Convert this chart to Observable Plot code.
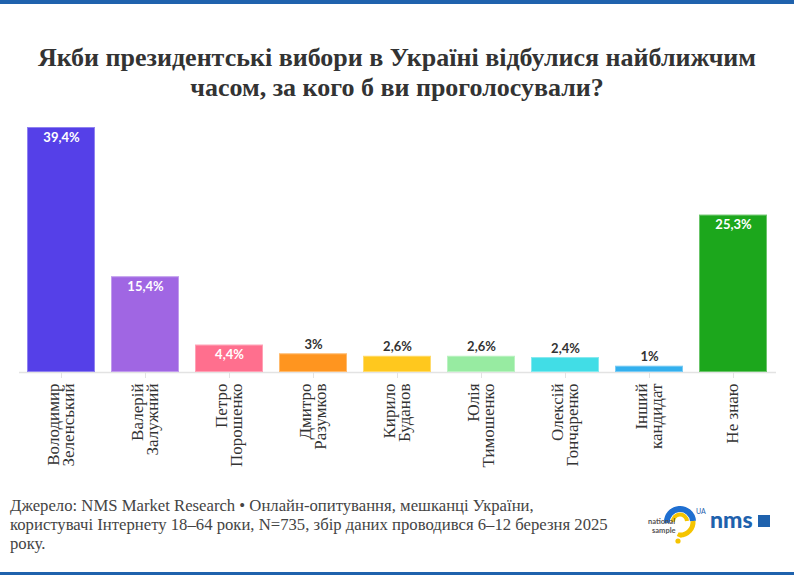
<!DOCTYPE html>
<html>
<head>
<meta charset="utf-8">
<script src="https://cdn.jsdelivr.net/npm/d3@7"></script>
<script src="https://cdn.jsdelivr.net/npm/@observablehq/plot@0.6"></script>
<style>
  html, body { margin: 0; padding: 0; background: #fff; }
  body { width: 794px; height: 575px; position: relative; overflow: hidden; }
  #topbar { position: absolute; left: 0; top: 0; width: 794px; height: 4px; background: #1f62ad; }
  #bottombar { position: absolute; left: 0; top: 572px; width: 794px; height: 3px; background: #1f62ad; }
  #title { position: absolute; left: 0; top: 43px; width: 794px; text-align: center;
    font-family: "Liberation Serif", serif; font-weight: 700; font-size: 26px; line-height: 30px; color: #333; }
  #chart { position: absolute; left: 0; top: 110px; width: 794px; height: 362px; }
  #source { position: absolute; left: 10px; top: 496px; font-family: "Liberation Serif", serif;
    font-size: 16.7px; line-height: 19px; color: #444; }
  #logos { position: absolute; left: 640px; top: 500px; }
</style>
</head>
<body>
<div id="topbar"></div>
<div id="title">Якби президентські вибори в Україні відбулися найближчим<br>часом, за кого б ви проголосували?</div>
<div id="chart"></div>
<div id="source">Джерело: NMS Market Research • Онлайн-опитування, мешканці України,<br>користувачі Інтернету 18–64 роки, N=735, збір даних проводився 6–12 березня 2025<br>року.</div>
<div id="logos">
  <svg width="150" height="50" viewBox="0 0 150 50">
    <path d="M27 23 A13 13 0 0 1 53 21" fill="none" stroke="#1f6fd1" stroke-width="6"/>
    <path d="M53 21 A13 13 0 0 1 40 35 L39 37" fill="none" stroke="#f5c400" stroke-width="5"/>
    <path d="M33 22 A7 7 0 0 1 47 21" fill="none" stroke="#f5c400" stroke-width="4"/>
    <circle cx="38" cy="41" r="2.6" fill="#f5c400"/>
    <text x="8" y="24" font-family="Lato, sans-serif" font-size="7.5" font-weight="700" fill="#555">national</text>
    <text x="12" y="33" font-family="Lato, sans-serif" font-size="7.5" font-weight="700" fill="#555">sample</text>
    <text x="56" y="14" font-family="Lato, sans-serif" font-size="7" fill="#1f62ad">UA</text>
    <text x="70" y="28" font-family="Lato, sans-serif" font-size="23" font-weight="900" fill="#1f62ad">nms</text>
    <rect x="118" y="15" width="12" height="12" fill="#1f62ad"/>
  </svg>
</div>
<div id="bottombar"></div>
<script>
const names = ["Володимир\nЗеленський", "Валерій\nЗалужний", "Петро\nПорошенко", "Дмитро\nРазумков",
  "Кирило\nБуданов", "Юлія\nТимошенко", "Олексій\nГончаренко", "Інший\nкандидат", "Не знаю"];
const values = [39.4, 15.4, 4.4, 3, 2.6, 2.6, 2.4, 1, 25.3];
const colors = ["#5540e8", "#a066e3", "#ff6f8e", "#ff951f", "#ffc81e", "#97eba1", "#41dde6", "#33b0ee", "#1ca71c"];

const data = names.map((name, i) => ({name, value: values[i]}));
const fmt = v => String(v).replace(".", ",") + "%";
const inside = data.filter(d => d.value >= 4);
const outside = data.filter(d => d.value < 4);

const chart = Plot.plot({
  width: 794,
  height: 362,
  marginTop: 17,
  marginBottom: 100,
  marginLeft: 19,
  marginRight: 18,
  style: {background: "transparent"},
  x: {domain: names, paddingInner: 0.19, paddingOuter: 0.095, axis: null},
  y: {domain: [0, 39.4], axis: null},
  color: {domain: names, range: colors},
  marks: [
    Plot.ruleY([0], {stroke: "#e3e3e3", strokeWidth: 1.5}),
    Plot.axisX({tickSize: 6, tickFormat: () => "", stroke: "#e3e3e3", label: null}),
    Plot.barY(data, {x: "name", y: "value", fill: "name"}),
    Plot.barY(data, {x: "name", y: "value", fill: "none", stroke: "white", strokeOpacity: 0.35, inset: 0.5}),
    Plot.text(inside, {x: "name", y: "value", text: d => fmt(d.value), fill: "white", lineAnchor: "top", dy: 5,
      fontFamily: "Lato, sans-serif", fontWeight: 700, fontSize: 13}),
    Plot.text(outside, {x: "name", y: "value", text: d => fmt(d.value), fill: "#333", lineAnchor: "bottom", dy: -5,
      fontFamily: "Lato, sans-serif", fontWeight: 700, fontSize: 13}),
    Plot.text(data, {x: "name", frameAnchor: "bottom", text: "name", rotate: -90, textAnchor: "end",
      lineAnchor: "middle", lineHeight: 0.9, dy: 11, fill: "#333",
      fontFamily: "Liberation Serif, serif", fontSize: 17})
  ]
});
document.getElementById("chart").appendChild(chart);
</script>
</body>
</html>
